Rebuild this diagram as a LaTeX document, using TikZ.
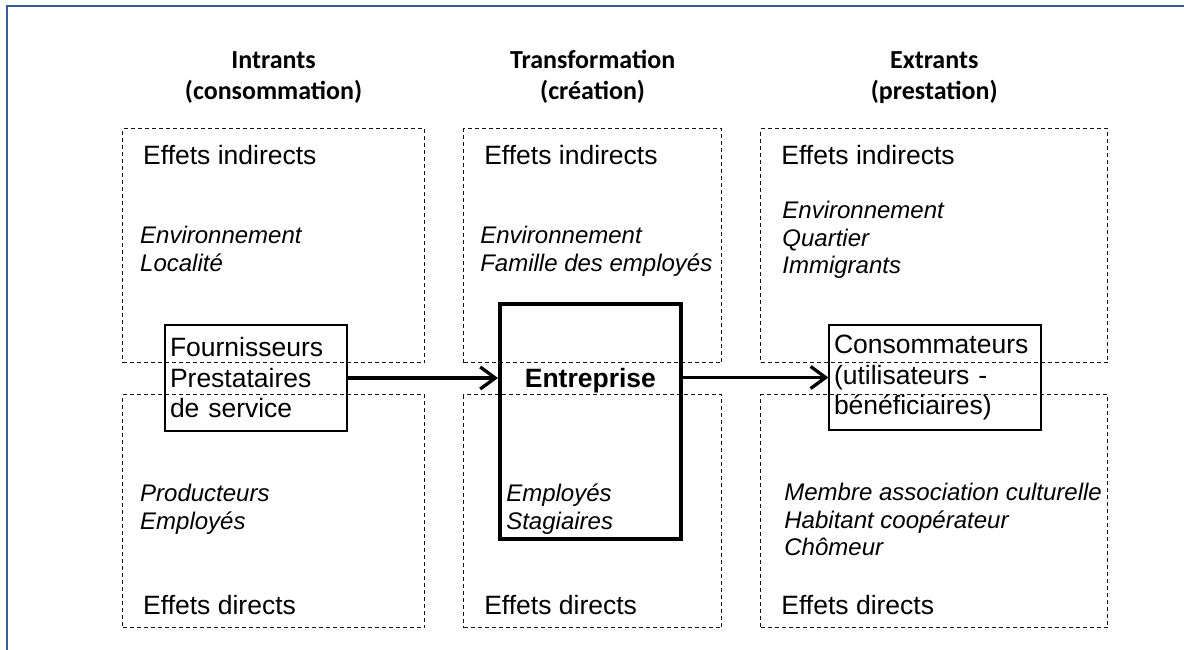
\documentclass[tikz,border=0pt]{standalone}
\usepackage{fontspec}
\setmainfont{Liberation Sans}
\newfontfamily\titlefont{Carlito}
\usetikzlibrary{positioning,arrows.meta}
\definecolor{frameblue}{RGB}{54,95,145}
\definecolor{dashgray}{RGB}{20,20,20}

\begin{document}
\begin{tikzpicture}[x=1pt,y=-1pt,
  zone/.style={draw=dashgray,line width=1.1pt,dash pattern=on 4pt off 3pt,
    inner sep=0pt,minimum height=234pt},
  head/.style={align=center,font=\titlefont\bfseries\fontsize{26}{31}\selectfont},
  effet/.style={inner sep=0pt,font=\fontsize{26.5}{30.5}\selectfont},
  list/.style={inner sep=0pt,align=left,font=\fontsize{24}{27.5}\selectfont\itshape},
  actor/.style={draw,line width=1.2pt,align=left,inner sep=5pt,
    font=\fontsize{26.5}{30.5}\selectfont},
  flow/.style={line width=3.3pt,-{Straight Barb[length=15pt,width=22pt]}}]

  \useasboundingbox (0,0) rectangle (1184,650);
  \draw[frameblue,line width=1.8pt] (7,650) -- (7,6) -- (1184,6);

  % dashed zones, top row then bottom row
  \node[zone,minimum width=302pt,anchor=north west] (li) at (122,128) {};
  \node[zone,minimum width=258pt,right=38pt of li] (mi) {};
  \node[zone,minimum width=347pt,right=38pt of mi] (ri) {};
  \node[zone,minimum width=302pt,minimum height=233pt,below=31pt of li] (ld) {};
  \node[zone,minimum width=258pt,minimum height=233pt,below=31pt of mi] (md) {};
  \node[zone,minimum width=347pt,minimum height=233pt,below=31pt of ri] (rd) {};

  % column heads
  \node[head,above=21pt of li] (hin) {Intrants\\(consommation)};
  \node[head,above=21pt of mi] (htr) {Transformation\\(création)};
  \node[head,above=21pt of ri] (hex) {Extrants\\(prestation)};

  % texts of the upper zones
  \node[effet,below right=17pt and 21pt of li.north west] (li-t) {Effets indirects};
  \node[effet,below right=17pt and 21pt of mi.north west] (mi-t) {Effets indirects};
  \node[effet,below right=17pt and 21pt of ri.north west] (ri-t) {Effets indirects};
  \node[list,below right=98pt and 18pt of li.north west] (li-l) {Environnement\\Localité};
  \node[list,below right=98pt and 17pt of mi.north west] (mi-l) {Environnement\\Famille des employés};
  \node[list,below right=73pt and 22pt of ri.north west] (ri-l) {Environnement\\Quartier\\Immigrants};

  % texts of the lower zones
  \node[list,below right=90pt and 18pt of ld.north west] (ld-l) {Producteurs\\Employés};
  \node[list,below right=90pt and 43pt of md.north west] (md-l) {Employés\\Stagiaires};
  \node[list,below right=89pt and 24pt of rd.north west] (rd-l) {Membre association culturelle\\Habitant coopérateur\\Chômeur};
  \node[effet,above right=13pt and 21pt of ld.south west] (ld-t) {Effets directs};
  \node[effet,above right=13pt and 21pt of md.south west] (md-t) {Effets directs};
  \node[effet,above right=13pt and 21pt of rd.south west] (rd-t) {Effets directs};

  % the three actors
  \node[actor,text width=172pt,minimum height=106pt] (fourn) at (256,378)
    {Fournisseurs\\Prestataires\\de service};
  \node[draw,line width=3.8pt,minimum width=181pt,minimum height=235pt,
    anchor=north west] (ent) at (498,302) {};
  \node[font=\bfseries\fontsize{26.5}{30.5}\selectfont,yshift=-3pt] (ent-t)
    at (ent.center |- fourn.east) {Entreprise};
  \node[actor,text width=202pt,minimum height=105pt] (conso) at (935,377.5)
    {Consommateurs\\(utilisateurs -\\bénéficiaires)};

  \draw[flow] (fourn.east) -- (fourn.east -| ent.west);
  \draw[flow] (ent.east |- conso.west) -- (conso.west);

\end{tikzpicture}
\end{document}
